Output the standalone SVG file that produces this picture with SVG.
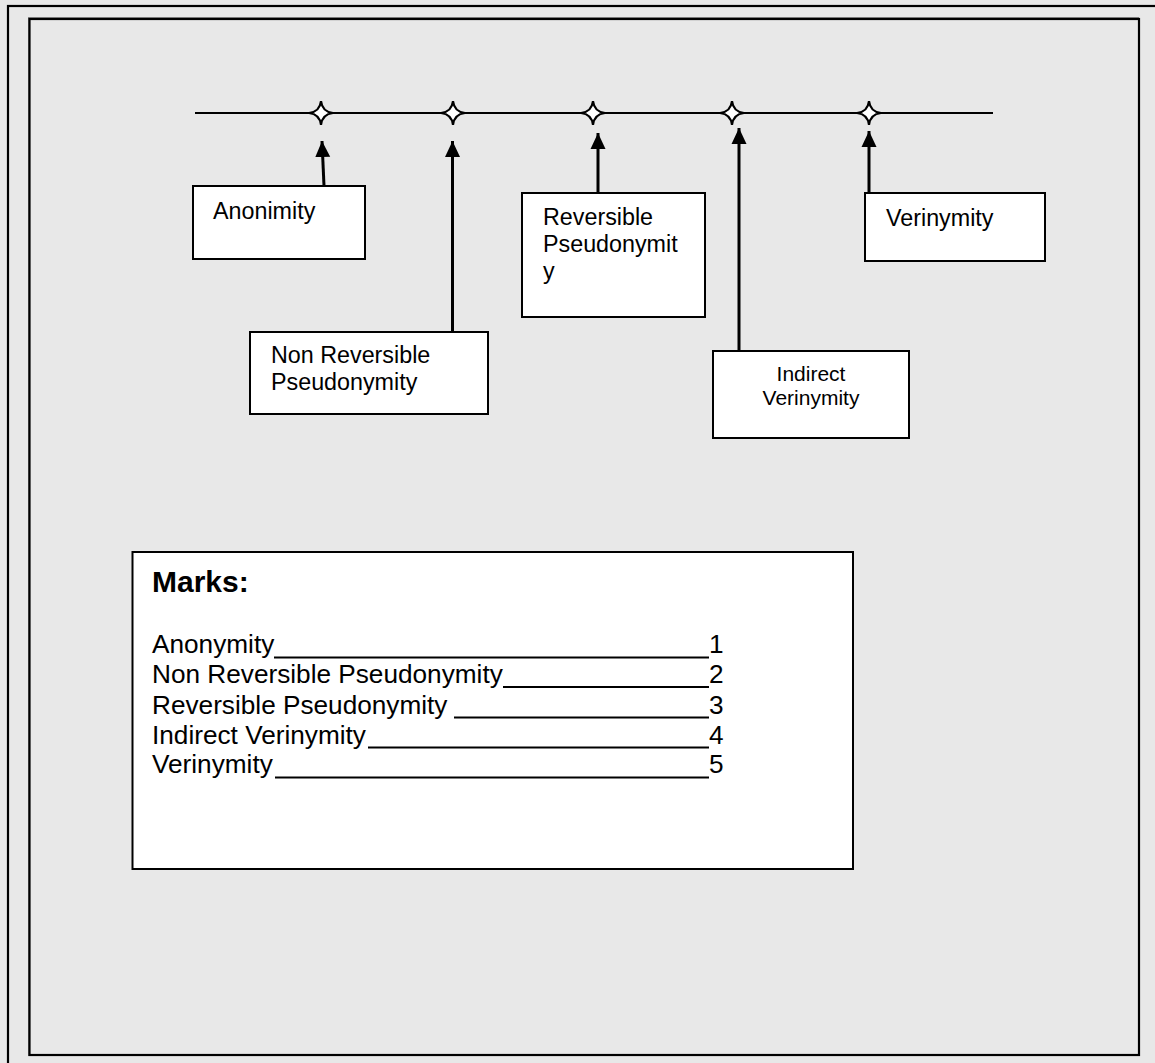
<svg xmlns="http://www.w3.org/2000/svg" width="1155" height="1063" viewBox="0 0 1155 1063">
<style>
.bg{fill:#e8e8e8}
.frame{fill:none;stroke:#000;stroke-width:2.2}
.box{fill:#fff;stroke:#000;stroke-width:2}
.t{font-family:"Liberation Sans",Arial,sans-serif;font-size:23.3px;fill:#000}
.ts{font-family:"Liberation Sans",Arial,sans-serif;font-size:21px;fill:#000}
.tm{font-family:"Liberation Sans",Arial,sans-serif;font-size:26.2px;fill:#000}
.tb{font-family:"Liberation Sans",Arial,sans-serif;font-size:30px;font-weight:bold;fill:#000}
.ln{stroke:#000;stroke-width:2;fill:none}
.arr{stroke:#000;stroke-width:3;fill:none;marker-end:url(#ah)}
.star{fill:#fff;stroke:#000;stroke-width:2.2}
.ul{stroke:#000;stroke-width:2.2}
</style>
<defs>
<marker id="ah" markerUnits="userSpaceOnUse" markerWidth="18" markerHeight="18" viewBox="0 0 18 18" refX="16" refY="9" orient="auto">
<path d="M0,1.5 L16,9 L0,16.5 Z" fill="#000"/>
</marker>
<path id="st" d="M0,-12 Q1.2,-1.2 12,0 Q1.2,1.2 0,12 Q-1.2,1.2 -12,0 Q-1.2,-1.2 0,-12 Z"/>
</defs>
<rect class="bg" x="0" y="0" width="1155" height="1063"/>
<rect class="frame" x="8" y="6" width="1170" height="1080"/>
<rect x="28.5" y="17.5" width="1110" height="1038" fill="none" stroke="#888" stroke-width="1"/>
<rect class="frame" x="29.5" y="19" width="1109.5" height="1036"/>

<g id="axis">
<line class="ln" x1="195" y1="113" x2="993" y2="113"/>
<use href="#st" class="star" x="321" y="113"/>
<use href="#st" class="star" x="453" y="113"/>
<use href="#st" class="star" x="593" y="113"/>
<use href="#st" class="star" x="732" y="113"/>
<use href="#st" class="star" x="869" y="113"/>
</g>

<g id="connectors">
<line class="arr" x1="324" y1="186" x2="322" y2="141"/>
<line class="arr" x1="452.5" y1="331" x2="452.5" y2="141"/>
<line class="arr" x1="598" y1="193" x2="598" y2="133"/>
<line class="arr" x1="739" y1="353" x2="739" y2="128"/>
<line class="arr" x1="869" y1="196" x2="869" y2="131"/>
</g>

<g id="n-anonimity">
<rect class="box" x="193" y="186" width="172" height="73"/>
<text class="t" x="213" y="219">Anonimity</text>
</g>

<g id="n-nonrev">
<rect class="box" x="250" y="332" width="238" height="82"/>
<text class="t" x="271" y="363">Non Reversible</text>
<text class="t" x="271" y="390">Pseudonymity</text>
</g>

<g id="n-rev">
<rect class="box" x="522" y="193" width="183" height="124"/>
<text class="t" x="543" y="225">Reversible</text>
<text class="t" x="543" y="252">Pseudonymit</text>
<text class="t" x="543" y="279">y</text>
</g>

<g id="n-indirect">
<rect class="box" x="713" y="351" width="196" height="87"/>
<text class="ts" x="811" y="381" text-anchor="middle">Indirect</text>
<text class="ts" x="811" y="405" text-anchor="middle">Verinymity</text>
</g>

<g id="n-verinymity">
<rect class="box" x="865" y="193" width="180" height="68"/>
<text class="t" x="886" y="226">Verinymity</text>
</g>

<g id="marks">
<rect class="box" x="132.5" y="552" width="720.5" height="317"/>
<text class="tb" x="152" y="592">Marks:</text>
<text class="tm" x="152" y="653">Anonymity</text>
<text class="tm" x="152" y="683">Non Reversible Pseudonymity</text>
<text class="tm" x="152" y="714">Reversible Pseudonymity</text>
<text class="tm" x="152" y="744">Indirect Verinymity</text>
<text class="tm" x="152" y="773">Verinymity</text>
<line class="ul" x1="274" y1="657.5" x2="709" y2="657.5"/>
<line class="ul" x1="503" y1="687" x2="709" y2="687"/>
<line class="ul" x1="454" y1="717.5" x2="709" y2="717.5"/>
<line class="ul" x1="368" y1="747.5" x2="709" y2="747.5"/>
<line class="ul" x1="275" y1="777.5" x2="709" y2="777.5"/>
<text class="tm" x="709" y="653">1</text>
<text class="tm" x="709" y="683">2</text>
<text class="tm" x="709" y="714">3</text>
<text class="tm" x="709" y="744">4</text>
<text class="tm" x="709" y="773">5</text>
</g>
</svg>
